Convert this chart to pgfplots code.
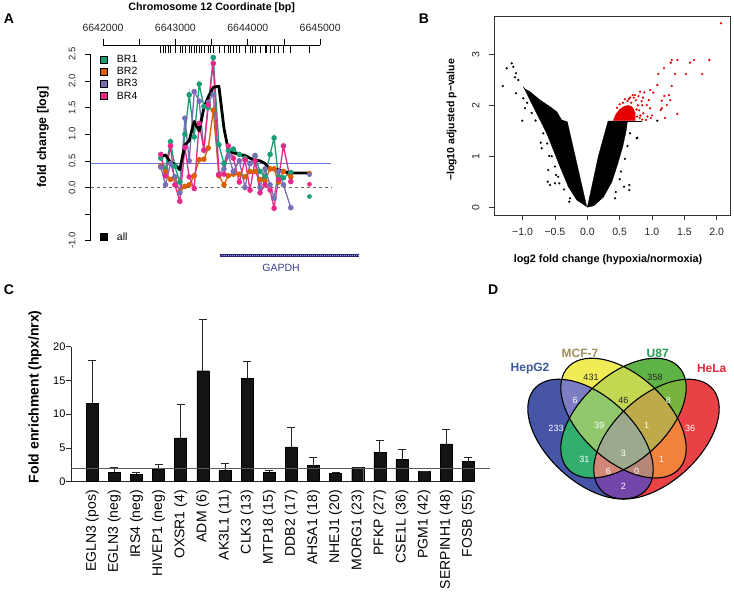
\documentclass[border=0pt]{standalone}
\usepackage{fontspec}
\setmainfont{Liberation Sans}
\usepackage{pgfplots}
\usepackage{pgfplotstable}
\pgfplotsset{compat=1.18}
\definecolor{brone}{HTML}{1B9E77}
\definecolor{brtwo}{HTML}{D95F02}
\definecolor{brthree}{HTML}{7570B3}
\definecolor{brfour}{HTML}{E7298A}
\definecolor{gapdh}{RGB}{40,40,130}
\definecolor{hline}{RGB}{100,120,215}
\definecolor{vB}{RGB}{70,85,165}
\definecolor{vY}{RGB}{240,236,85}
\definecolor{vG}{RGB}{95,178,70}
\definecolor{vR}{RGB}{233,65,70}
\definecolor{vBY}{RGB}{125,125,195}
\definecolor{vBG}{RGB}{50,175,110}
\definecolor{vBR}{RGB}{115,70,170}
\definecolor{vYG}{RGB}{195,215,80}
\definecolor{vYR}{RGB}{240,130,60}
\definecolor{vGR}{RGB}{120,180,60}
\definecolor{vBYG}{RGB}{145,200,110}
\definecolor{vBYR}{RGB}{180,135,120}
\definecolor{vBGR}{RGB}{210,135,120}
\definecolor{vYGR}{RGB}{190,170,75}
\definecolor{vBYGR}{RGB}{155,170,140}
\definecolor{lHep}{RGB}{60,90,150}
\definecolor{lMCF}{RGB}{160,145,95}
\definecolor{lU}{RGB}{40,155,80}
\definecolor{lHe}{RGB}{225,40,55}

% x = position on chromosome 12 minus 6642000 bp
\pgfplotstableread{
x br1 br2 br3 br4
798 0.55 0.40 0.38 0.62
863 0.35 0.30 0.05 0.22
932 0.86 0.15 0.45 0.78
992 0.40 0.18 0.20 0.05
1061 0.10 -0.08 -0.10 -0.26
1131 1.00 0.02 1.30 0.75
1191 1.74 0.05 0.50 0.20
1260 0.95 0.22 1.80 -0.02
1329 1.94 0.52 1.62 1.20
1394 1.52 0.53 0.70 0.70
1454 1.50 0.74 1.60 1.55
1523 2.44 1.45 1.75 2.33
1601 0.80 0.22 0.25 0.24
1671 0.45 0.05 0.35 0.25
1731 0.70 0.22 0.60 0.78
1800 0.72 0.25 0.30 0.55
1883 0.62 0.25 0.50 0.10
1961 0.55 0.20 0.00 0.52
2031 0.45 0.30 0.45 -0.05
2100 0.58 0.30 0.60 0.50
2169 0.30 0.15 0.00 -0.10
2238 0.20 0.12 0.35 0.05
2308 0.62 0.35 0.05 -0.05
2363 0.93 0.35 -0.20 -0.39
2423 0.20 0.10 0.30 0.15
2492 0.18 0.30 0.05 0.78
2594 0.28 0.20 -0.38 0.11
}\dataA
\pgfplotstableread{
x br1 br2 br3 br4
2852 -0.17 0.27 0.24 0.06
}\dataAend
\pgfplotstableread{
x all
798 0.58
863 0.61
932 0.47
992 0.44
1061 0.33
1131 0.80
1191 0.88
1260 1.24
1329 1.06
1394 1.50
1454 1.70
1523 1.88
1601 1.90
1671 1.11
1731 0.70
1800 0.65
1883 0.62
1961 0.60
2031 0.55
2100 0.51
2169 0.50
2238 0.45
2308 0.33
2363 0.35
2423 0.33
2492 0.30
2594 0.27
2852 0.27
}\dataAll
\pgfplotstableread{
idx val err
0 11.56 6.39
1 1.37 0.73
2 1.07 0.30
3 1.80 0.83
4 6.49 5.00
5 16.44 7.60
6 1.70 1.03
7 15.30 2.50
8 1.37 0.33
9 5.17 2.93
10 2.39 1.27
11 1.27 0.10
12 2.10 0.05
13 4.39 1.71
14 3.27 1.46
15 1.50 0.10
16 5.60 2.10
17 2.98 0.68
}\dataC

\newcommand\EB{(-33pt,62.7pt) ellipse [x radius=77pt, y radius=44pt, rotate=-45]}
\newcommand\EY{(0pt,84.7pt) ellipse [x radius=77pt, y radius=44pt, rotate=-45]}
\newcommand\EG{(0pt,84.7pt) ellipse [x radius=77pt, y radius=44pt, rotate=45]}
\newcommand\ER{(33pt,62.7pt) ellipse [x radius=77pt, y radius=44pt, rotate=45]}
\newcommand\vclip[2]{\ifnum#1=1 \clip #2; \else \clip (-100pt,-3pt) rectangle (100pt,152pt) #2; \fi}
\newcommand\vreg[5]{\begin{scope}[even odd rule]\vclip{#1}{\EB}\vclip{#2}{\EY}\vclip{#3}{\EG}\vclip{#4}{\ER}\fill[#5] (-100pt,-3pt) rectangle (100pt,152pt);\end{scope}}

\begin{document}
\begin{tikzpicture}
\useasboundingbox[fill=white] (0pt,0pt) rectangle (734pt,599pt);

% ---------------- Panel A ----------------
\begin{axis}[
  at={(90.7pt,358.3pt)}, anchor=south west, scale only axis,
  width=269.3pt, height=195.7pt,
  xmin=-170, xmax=3550, ymin=-1, ymax=2.675,
  axis x line*=top, axis y line*=left,
  axis line style={draw=none},
  xtick={0,500,1000,1500,2000,2500,3000},
  xticklabels={6642000,,6643000,,6644000,,6645000},
  ytick={-1,-0.5,0,0.5,1,1.5,2,2.5},
  yticklabels={-1.0,,0.0,0.5,1.0,1.5,2.0,2.5},
  tick align=outside, major tick length=5.7pt,
  tick style={black, line width=0.6pt},
  xticklabel shift=4pt, yticklabel shift=6pt,
  xticklabel style={font=\fontsize{10.5}{11}\selectfont, text=black!85},
  yticklabel style={rotate=90, anchor=south, font=\fontsize{9.5}{10}\selectfont, text=black!85},
  clip=false,
]
\addplot[black, line width=0.6pt] coordinates {(-170,-1)(-170,2.5)};
\addplot[black, line width=0.6pt] coordinates {(0,2.675)(3000,2.675)};
\addplot[only marks, mark=|, mark size=3.85pt, mark options={line width=0.6pt, black}] coordinates {
(798,2.603)(831,2.603)(863,2.603)(900,2.603)(932,2.603)(992,2.603)(1061,2.603)(1098,2.603)(1131,2.603)(1191,2.603)(1223,2.603)(1260,2.603)(1292,2.603)(1329,2.603)(1361,2.603)(1394,2.603)(1454,2.603)(1477,2.603)(1523,2.603)(1601,2.603)(1671,2.603)(1731,2.603)(1754,2.603)(1800,2.603)(1846,2.603)(1883,2.603)(1961,2.603)(2031,2.603)(2068,2.603)(2100,2.603)(2169,2.603)(2238,2.603)(2261,2.603)(2308,2.603)(2363,2.603)(2423,2.603)(2492,2.603)(2594,2.603)(2852,2.603)};
\addplot[black!60, dashed, line width=0.7pt] coordinates {(-170,0)(3150,0)};
\addplot[hline, line width=1.1pt] coordinates {(-170,0.45)(3150,0.45)};
\addplot[brone, line width=1.3pt, mark=*, mark size=2.1pt] table[x=x,y=br1] {\dataA};
\addplot[brtwo, line width=1.3pt, mark=*, mark size=2.1pt] table[x=x,y=br2] {\dataA};
\addplot[brthree, line width=1.3pt, mark=*, mark size=2.1pt] table[x=x,y=br3] {\dataA};
\addplot[brfour, line width=1.3pt, mark=*, mark size=2.1pt] table[x=x,y=br4] {\dataA};
\addplot[brone, only marks, mark=*, mark size=2.1pt] table[x=x,y=br1] {\dataAend};
\addplot[brtwo, only marks, mark=*, mark size=2.1pt] table[x=x,y=br2] {\dataAend};
\addplot[brthree, only marks, mark=*, mark size=2.1pt] table[x=x,y=br3] {\dataAend};
\addplot[brfour, only marks, mark=*, mark size=2.1pt] table[x=x,y=br4] {\dataAend};
\addplot[black, line width=2.8pt, line join=round] table[x=x,y=all] {\dataAll};
% legend
\node[draw=black, fill=brone, minimum size=7pt, inner sep=0pt] at (axis cs:10,2.407) {};
\node[draw=black, fill=brtwo, minimum size=7pt, inner sep=0pt] at (axis cs:10,2.182) {};
\node[draw=black, fill=brthree, minimum size=7pt, inner sep=0pt] at (axis cs:10,1.957) {};
\node[draw=black, fill=brfour, minimum size=7pt, inner sep=0pt] at (axis cs:10,1.715) {};
\node[draw=black, fill=black, minimum size=7pt, inner sep=0pt] at (axis cs:10,-0.925) {};
\node[anchor=west, font=\fontsize{10.5}{11}\selectfont, inner sep=0pt] at (axis cs:190,2.407) {BR1};
\node[anchor=west, font=\fontsize{10.5}{11}\selectfont, inner sep=0pt] at (axis cs:190,2.182) {BR2};
\node[anchor=west, font=\fontsize{10.5}{11}\selectfont, inner sep=0pt] at (axis cs:190,1.957) {BR3};
\node[anchor=west, font=\fontsize{10.5}{11}\selectfont, inner sep=0pt] at (axis cs:190,1.715) {BR4};
\node[anchor=west, font=\fontsize{10.5}{11}\selectfont, inner sep=0pt] at (axis cs:190,-0.925) {all};
% gene
\addplot[gapdh, line width=3.4pt] coordinates {(1616,-1.276)(3530,-1.276)};
\addplot[white!55!gapdh, line width=0.5pt, dash pattern=on 0.8pt off 1.2pt] coordinates {(1640,-1.276)(3520,-1.276)};
\node[text=gapdh!90, font=\fontsize{10.5}{11}\selectfont] at (axis cs:2459,-1.506) {GAPDH};
\end{axis}
\node[font=\bfseries\fontsize{10.7}{12}\selectfont] at (211.7pt,591.5pt) {Chromosome 12 Coordinate [bp]};
\node[rotate=90, font=\bfseries\fontsize{12.5}{13}\selectfont] at (43pt,462pt) {fold change [log]};

% ---------------- Panel B ----------------
\begin{axis}[
  at={(494pt,384pt)}, anchor=south west, scale only axis,
  width=236pt, height=198.3pt,
  xmin=-1.442, xmax=2.205, ymin=-0.151, ymax=3.737,
  xtick={-1,-0.5,0,0.5,1,1.5,2},
  xticklabels={−1.0,−0.5,0.0,0.5,1.0,1.5,2.0},
  ytick={0,1,2,3}, yticklabels={0,1,2,3},
  xtick pos=left, ytick pos=left, tick align=outside, major tick length=5pt,
  xticklabel shift=5pt, yticklabel shift=6pt,
  axis line style={black!80, line width=0.6pt},
  tick style={black!80, line width=0.6pt},
  xticklabel style={font=\fontsize{10.5}{11}\selectfont, text=black!85},
  yticklabel style={rotate=90, anchor=south, font=\fontsize{10.5}{11}\selectfont, text=black!85},
]
\addplot[fill=black, draw=black, line width=0.3pt] coordinates {
(-0.009,0.012)(-0.309,1.678)(-0.396,1.712)(-0.473,1.875)(-0.577,1.973)(-0.731,2.104)(-0.886,2.267)(-0.963,2.32)(-0.989,2.365)(-0.937,2.235)(-0.835,1.973)(-0.731,1.712)(-0.628,1.45)(-0.525,1.124)(-0.422,0.796)(-0.294,0.404)(-0.164,0.143)(-0.009,0.012)};
\addplot[fill=black, draw=black, line width=0.3pt] coordinates {
(0,0)(0.17,1.0)(0.32,1.69)(0.62,1.69)(0.6,1.5)(0.55,1.2)(0.47,0.85)(0.38,0.5)(0.25,0.2)(0.1,0.03)(0,0)};
\addplot[black, line width=1.4pt] coordinates {(0.55,1.685)(0.84,1.685)};
\addplot[fill=red!90!black, draw=red!90!black, line width=0.3pt] coordinates {
(0.40,1.70)(0.44,1.82)(0.50,1.92)(0.57,1.98)(0.64,2.00)(0.70,1.96)(0.74,1.85)(0.74,1.70)(0.40,1.70)};
\addplot[only marks, mark=*, mark size=0.9pt, black] coordinates {
(-1.308,2.378)(-1.246,2.725)(-1.169,2.823)(-1.144,2.757)(-1.102,2.627)(-1.117,2.549)(-1.066,2.496)(-1.102,2.235)(-0.989,2.137)(-0.963,1.941)(-1.005,1.698)(-0.72,1.267)(-0.705,1.157)(-0.587,1.006)(-0.603,0.731)(-0.612,0.502)(-0.576,0.437)(-0.499,0.47)(-0.433,0.47)(-0.484,0.633)(-0.278,0.11)(-0.267,0.176)(-0.93,2.05)(-0.86,1.85)(-0.80,1.70)(-0.68,1.45)(-0.62,1.25)(-0.55,1.0)(-0.5,0.8)(-0.45,0.6)(-0.36,0.35)
(0.567,0.404)(0.649,0.437)(0.649,0.339)(0.763,1.353)(0.428,0.176)(1.082,1.698)(0.773,1.365)(0.52,0.7)(0.58,0.95)(0.62,1.2)(0.66,1.45)(0.5,0.55)(0.44,0.3)};
\addplot[only marks, mark=*, mark size=0.9pt, red!90!black] coordinates {
(2.067,3.608)(1.304,2.888)(1.289,2.836)(1.391,2.888)(1.097,2.614)(1.185,2.725)(1.355,2.614)(1.525,2.614)(1.587,2.836)(1.649,2.888)(1.886,2.888)(1.777,2.614)(1.082,2.398)(1.304,2.379)(1.19,2.182)(1.15,2.09)(1.15,1.94)(1.134,1.908)(1.227,2.006)(1.391,1.829)(0.969,2.3)(1.02,2.247)(0.918,2.006)(0.969,1.94)(0.866,1.843)(0.907,1.712)(0.815,2.267)(0.737,2.202)(0.86,2.15)(0.88,2.25)(0.95,2.1)(1.0,1.8)(0.93,1.78)(0.85,2.0)(0.70,2.2)(0.66,2.15)(1.26,2.2)(1.28,2.1)(1.20,1.75)(0.98,1.75)(0.58,2.12)(0.50,2.02)(0.46,1.95)(0.85,1.72)
(0.62,2.08)(0.68,2.05)(0.75,2.10)(0.78,2.0)(0.80,1.90)(0.77,1.78)(0.82,1.80)(0.72,2.15)(0.55,2.05)(0.64,2.12)(0.79,2.18)(0.84,2.08)(0.76,1.92)(0.81,1.75)};
\end{axis}
\node[font=\bfseries\fontsize{10.8}{12}\selectfont] at (608pt,339pt) {log2 fold change (hypoxia/normoxia)};
\node[rotate=90, font=\bfseries\fontsize{10.5}{12}\selectfont] at (451.7pt,479pt) {−log10 adjusted p−value};

% ---------------- Panel C ----------------
\begin{axis}[
  at={(71pt,117.3pt)}, anchor=south west, scale only axis,
  width=404pt, height=168.75pt,
  xmin=-0.957, xmax=17.3, ymin=0, ymax=25,
  axis x line*=bottom, axis y line*=left,
  x axis line style={-, black!85, line width=0.8pt},
  y axis line style={draw=none},
  ytick={0,5,10,15,20},
  xtick={0,1,2,3,4,5,6,7,8,9,10,11,12,13,14,15,16,17},
  xticklabels={EGLN3 (pos),EGLN3 (neg),IRS4 (neg),HIVEP1 (neg),OXSR1 (4),ADM (6),AK3L1 (11),CLK3 (13),MTP18 (15),DDB2 (17),AHSA1 (18),NHEJ1 (20),MORG1 (23),PFKP (27),CSE1L (36),PGM1 (42),SERPINH1 (48),FOSB (55)},
  xticklabel style={rotate=90, anchor=east, font=\fontsize{14}{14}\selectfont},
  yticklabel style={font=\fontsize{11}{12}\selectfont, /pgf/number format/assume math mode=true},
  yticklabel shift=-3pt,
  x tick style={draw=none},
  y tick style={black!85, line width=0.8pt},
  tick align=outside, major tick length=5pt,
  clip=false,
]
\addplot[black!85, line width=0.8pt] coordinates {(-0.957,0)(-0.957,20)};
\addplot[ybar, bar width=12pt, fill=black!92, draw=black,
  error bars/.cd, y dir=plus, y explicit,
  error bar style={black!85, line width=0.7pt},
  error mark options={rotate=90, mark size=4pt, line width=0.7pt, black!85}]
  table[x=idx, y=val, y error=err] {\dataC};
\addplot[black!65, line width=1pt] coordinates {(-0.957,1.95)(17.98,1.95)};
\end{axis}
\node[rotate=90, font=\bfseries\fontsize{14}{15}\selectfont] at (35pt,202.3pt) {Fold enrichment (hpx/nrx)};

% ---------------- Panel D ----------------
\begin{scope}[shift={(623.5pt,100pt)}, yscale=0.955]
\vreg1000{vB}
\vreg0100{vY}
\vreg0010{vG}
\vreg0001{vR}
\vreg1100{vBY}
\vreg1010{vBG}
\vreg1001{vBR}
\vreg0110{vYG}
\vreg0101{vYR}
\vreg0011{vGR}
\vreg1110{vBYG}
\vreg1101{vBYR}
\vreg1011{vBGR}
\vreg0111{vYGR}
\vreg1111{vBYGR}
\draw[line width=1.1pt] \EB;
\draw[line width=1.1pt] \EY;
\draw[line width=1.1pt] \EG;
\draw[line width=1.1pt] \ER;
\end{scope}
\begin{scope}[font=\fontsize{9}{10}\selectfont]
\node[text=black!85] at (591pt,221.3pt) {431};
\node[text=black!85] at (655pt,221.3pt) {358};
\node[text=white] at (575pt,199pt) {6};
\node[text=black!85] at (623.3pt,199pt) {46};
\node[text=white] at (668.3pt,199pt) {8};
\node[text=white] at (556pt,170.7pt) {233};
\node[text=white] at (599.3pt,174pt) {39};
\node[text=white] at (646.7pt,174pt) {1};
\node[text=white] at (690pt,170.7pt) {36};
\node[text=white] at (623.3pt,145.7pt) {3};
\node[text=white] at (584.3pt,139.7pt) {31};
\node[text=white] at (661.7pt,139.7pt) {1};
\node[text=white] at (608.3pt,127.3pt) {6};
\node[text=white] at (636.7pt,127.3pt) {0};
\node[text=white] at (623.3pt,112.3pt) {2};
\end{scope}
\begin{scope}[font=\bfseries\fontsize{12}{13}\selectfont]
\node[text=lHep] at (530pt,230.7pt) {HepG2};
\node[text=lMCF] at (580pt,245.7pt) {MCF-7};
\node[text=lU] at (657.7pt,245.7pt) {U87};
\node[text=lHe] at (711.7pt,230.7pt) {HeLa};
\end{scope}

% panel letters
\begin{scope}[font=\bfseries\fontsize{14}{15}\selectfont]
\node at (9pt,580.7pt) {A};
\node at (424pt,580.7pt) {B};
\node at (9pt,309pt) {C};
\node at (493.3pt,309pt) {D};
\end{scope}
\end{tikzpicture}
\end{document}
